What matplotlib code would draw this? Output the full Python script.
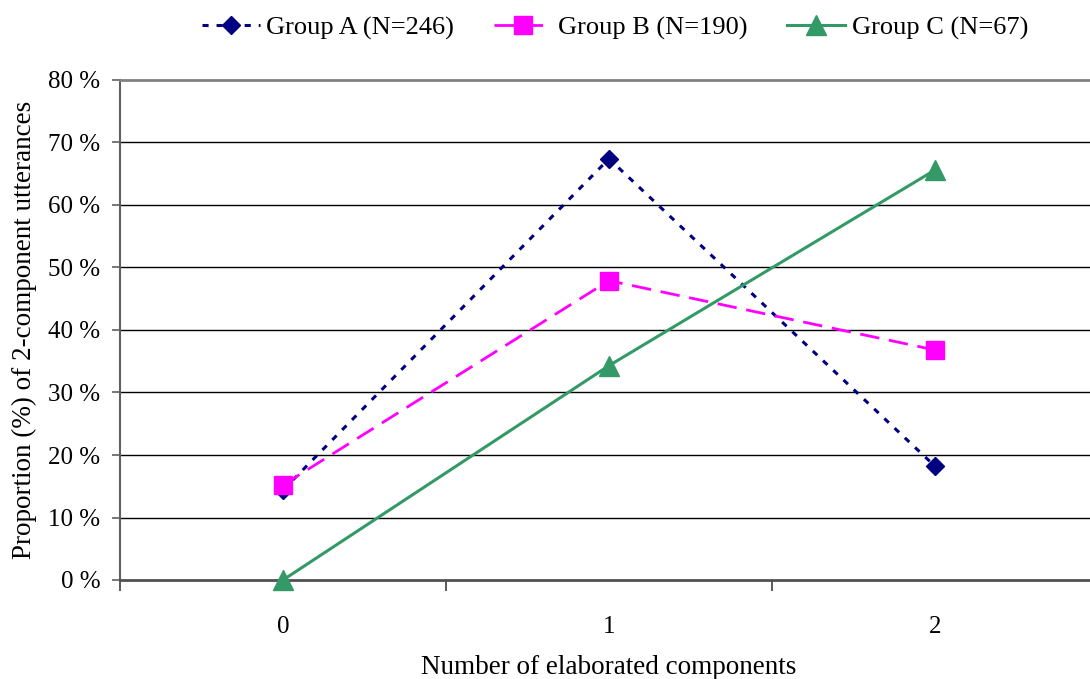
import matplotlib
matplotlib.use("Agg")
import matplotlib.pyplot as plt
from matplotlib.ticker import FixedLocator, FuncFormatter

plt.rcParams['font.family'] = ['Liberation Serif', 'DejaVu Serif']

# Data
categories = [0, 1, 2]
group_a = [14.4, 67.4, 18.2]
group_b = [15.2, 47.9, 36.8]
group_c = [0.0, 34.3, 65.6]
labels = ['Group A (N=246)', 'Group B (N=190)', 'Group C (N=67)']
y_ticks = [0, 10, 20, 30, 40, 50, 60, 70, 80]

fig = plt.figure(figsize=(10.90, 6.79), dpi=100)
ax = fig.add_axes([120 / 1090, 99 / 679, 978 / 1090, 500 / 679])

ax.plot(categories, group_a, color='#000080', lw=2.2, linestyle=(0, (2.0, 2.6)),
        marker='D', markersize=9.5, label=labels[0], zorder=3, clip_on=False)
ax.plot(categories, group_b, color='#FF00FF', lw=2.0, linestyle=(0, (7, 3.5)),
        marker='s', markersize=12.5, label=labels[1], zorder=3, clip_on=False)
ax.plot(categories, group_c, color='#339966', lw=2.2, linestyle='-',
        marker='^', markersize=14, label=labels[2], zorder=3, clip_on=False)

ax.set_xlim(-0.5, 2.5)
ax.set_ylim(0, 80)

# Horizontal gridlines
for v in y_ticks[1:-1]:
    ax.axhline(v, color='black', lw=1.0, zorder=1)

ax.yaxis.set_major_locator(FixedLocator(y_ticks))
ax.yaxis.set_major_formatter(FuncFormatter(lambda v, p: f'{int(v)} %'))
ax.tick_params(axis='y', direction='out', length=6, width=1.2, color='#606060',
               labelsize=18, pad=8)

ax.set_xticks(categories)
ax.set_xticklabels([str(c) for c in categories])
ax.set_xticks([-0.5, 0.5, 1.5, 2.5], minor=True)
ax.tick_params(axis='x', which='major', length=0, labelsize=18, pad=26)
ax.tick_params(axis='x', which='minor', direction='out', length=8, width=1.2,
               color='#404040')

ax.spines['right'].set_visible(False)
ax.spines['top'].set_color('#808080')
ax.spines['top'].set_linewidth(2.0)
ax.spines['left'].set_color('#606060')
ax.spines['left'].set_linewidth(1.5)
ax.spines['bottom'].set_color('#505050')
ax.spines['bottom'].set_linewidth(2.0)

ax.set_xlabel('Number of elaborated components', fontsize=19.5, labelpad=12)
ax.set_ylabel('Proportion (%) of 2-component utterances', fontsize=19.5, labelpad=8)

fig.legend(loc='center', bbox_to_anchor=(615 / 1090, 1 - 28 / 679), ncol=3,
           frameon=False, fontsize=19, handlelength=2.2, handletextpad=0.25,
           columnspacing=1.5)

fig.savefig('out.png', dpi=100)
